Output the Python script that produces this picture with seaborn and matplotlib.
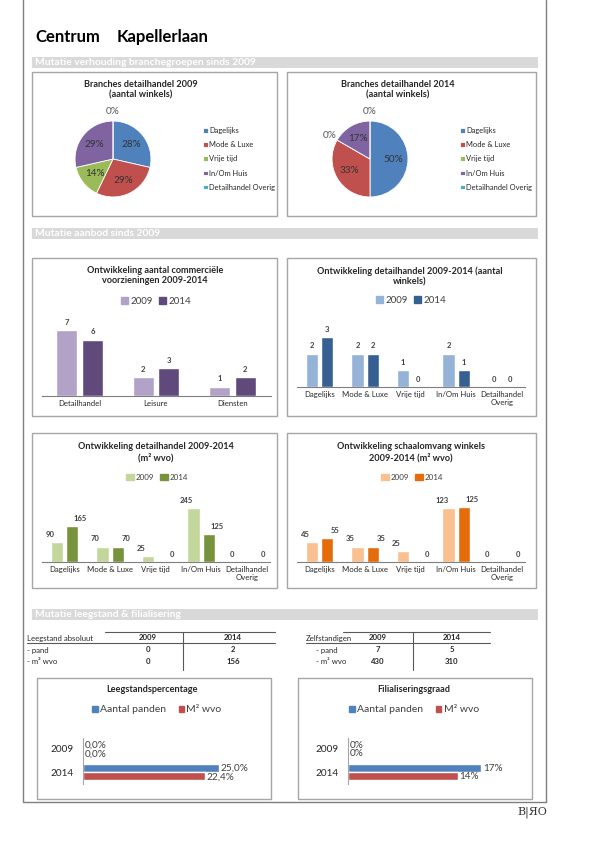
import matplotlib
matplotlib.use("Agg")
import math
import matplotlib.pyplot as plt
from matplotlib.patches import Rectangle, Patch
import seaborn as sns
import pandas as pd

sns.set_theme(style="white")
plt.rcParams["font.family"] = ["Lato", "DejaVu Sans"]

# data
branches = ["Dagelijks", "Mode & Luxe", "Vrije tijd", "In/Om Huis", "Detailhandel Overig"]
branches_as = ["Dagelijks", "Mode & Luxe", "Vrije tijd", "In/Om Huis", "Detailhandel\nOverig"]
winkels_2009 = [2, 2, 1, 2, 0]
winkels_2014 = [3, 2, 0, 1, 0]
pie_labels_2009 = ["28%", "29%", "14%", "29%", "0%"]
pie_labels_2014 = ["50%", "33%", "0%", "17%", "0%"]
voorz_cats = ["Detailhandel", "Leisure", "Diensten"]
voorz_2009 = [7, 2, 1]
voorz_2014 = [6, 3, 2]
wvo_2009 = [90, 70, 25, 245, 0]
wvo_2014 = [165, 70, 0, 125, 0]
schaal_2009 = [45, 35, 25, 123, 0]
schaal_2014 = [55, 35, 0, 125, 0]
jaren = ["2009", "2014"]
series = ["Aantal panden", "M² wvo"]
leeg_panden = [0.0, 25.0]
leeg_m2 = [0.0, 22.4]
filiaal_panden = [0, 17]
filiaal_m2 = [0, 14]
leeg_rows = ["- pand", "- m² wvo"]
leeg_09 = [0, 0]
leeg_14 = [2, 156]
zelf_09 = [7, 430]
zelf_14 = [5, 310]

pie_colors = ["#4F81BD", "#C0504D", "#9BBB59", "#8064A2", "#4BACC6"]
TXT = "#262626"
W, H = 595, 842

fig = plt.figure(figsize=(5.95, 8.42), dpi=100)
bg = fig.add_axes([0, 0, 1, 1])
bg.set_xlim(0, W)
bg.set_ylim(H, 0)
bg.axis("off")


def place(x0, y0, x1, y1):
    ax = fig.add_axes([x0 / W, 1 - y1 / H, (x1 - x0) / W, (y1 - y0) / H])
    ax.patch.set_alpha(0)
    return ax


def fxy(x, y):
    return (x / W, 1 - y / H)


def box(x0, y0, x1, y1):
    bg.add_patch(Rectangle((x0, y0), x1 - x0, y1 - y0, fill=False, ec="#a6a6a6", lw=1))


def header(y, text):
    bg.add_patch(Rectangle((32, y), 506, 11, color="#d9d9d9", lw=0))
    bg.text(35, y + 5.8, text, color="white", fontsize=7.4, fontweight="bold", va="center")


# page frame
bg.plot([23, 23, 546, 546], [0, 802, 802, 0], color="#7f7f7f", lw=1)
bg.text(35, 37, "Centrum", fontsize=12, fontweight="bold", va="center", color="black")
bg.text(117, 37, "Kapellerlaan", fontsize=12, fontweight="bold", va="center", color="black")
bg.text(517, 812, "B|ЯO", family="DejaVu Serif", fontsize=8, va="center", color="#333333")

header(57, "Mutatie verhouding branchegroepen sinds 2009")
header(228, "Mutatie aanbod sinds 2009")
header(609, "Mutatie leegstand & filialisering")

for b in [(32, 72, 277, 216), (287, 72, 536, 216), (32, 258, 277, 416), (287, 258, 536, 416),
          (32, 433, 277, 588), (287, 433, 536, 588), (37, 678, 271, 799), (298, 678, 532, 799)]:
    box(*b)


# pies
def pie(cx, cy, values, labels, title, tx):
    ax = place(cx - 52, cy - 52, cx + 52, cy + 52)
    wedges, _ = ax.pie(values, colors=pie_colors, startangle=90, counterclock=False,
                       wedgeprops=dict(ec="white", lw=0.6))
    ax.set_xlim(-1.37, 1.37)
    ax.set_ylim(-1.37, 1.37)
    for w, v, lab in zip(wedges, values, labels):
        t = math.radians((w.theta1 + w.theta2) / 2)
        r = 0.62 if v > 0 else 1.24
        ax.text(r * math.cos(t), r * math.sin(t), lab, ha="center", va="center",
                fontsize=7.2, color="#333333" if v > 0 else "#595959")
    ax.legend(wedges, branches, loc="center left", bbox_to_anchor=(1.33, 0.5), frameon=False,
              fontsize=5.4, handlelength=0.6, handleheight=0.6, handletextpad=0.2,
              labelspacing=0.95, borderpad=0, labelcolor=TXT)
    bg.text(tx, 89.5, title, ha="center", va="center", fontsize=6.6, fontweight="bold",
            color=TXT, linespacing=1.2)


pie(113, 159, winkels_2009, pie_labels_2009, "Branches detailhandel 2009\n(aantal winkels)", 141)
pie(370, 159, winkels_2014, pie_labels_2014, "Branches detailhandel 2014\n(aantal winkels)", 398)


# grouped bars
def bars(x0, x1, base, top, cats, a, b, colors, ymax, dxs, title, tx, ty, lx, ly, lsize, hl):
    n = len(cats)
    df = pd.DataFrame({"cat": cats * 2, "jaar": [jaren[0]] * n + [jaren[1]] * n, "val": a + b})
    ax = place(x0, top, x1, base)
    sns.barplot(data=df, x="cat", y="val", hue="jaar", palette=colors, width=0.67, gap=0.18,
                errorbar=None, legend=False, ax=ax, saturation=1)
    ax.set_xlim(-0.5, n - 0.5)
    ax.set_ylim(0, ymax)
    ax.set_yticks([])
    ax.set_xlabel("")
    ax.set_ylabel("")
    for s in ["left", "right", "top"]:
        ax.spines[s].set_visible(False)
    ax.spines["bottom"].set_color("#7f7f7f")
    ax.spines["bottom"].set_linewidth(0.8)
    ax.tick_params(axis="x", length=0, labelsize=5.6, pad=3, colors=TXT)
    for lab in ax.get_xticklabels():
        lab.set_linespacing(1.1)
    for cont, dx in zip(ax.containers, dxs):
        for p in cont.patches:
            v = p.get_height()
            ax.annotate(f"{v:.0f}", (p.get_x() + p.get_width() / 2, v), xytext=(dx, 3),
                        textcoords="offset points", ha="center", va="bottom", fontsize=5.5,
                        fontweight="bold", color="#404040")
    handles = [Patch(color=c) for c in colors]
    fig.legend(handles, jaren, loc="center", bbox_to_anchor=fxy(lx, ly), ncol=2, frameon=False,
               fontsize=lsize, handlelength=hl, handleheight=0.7, handletextpad=0.25,
               columnspacing=0.7, labelcolor="#404040")
    bg.text(tx, ty, title, ha="center", va="center", fontsize=6.6, fontweight="bold",
            color=TXT, linespacing=1.2)
    return ax


bars(41.5, 270.5, 396, 316, voorz_cats, voorz_2009, voorz_2014, ["#B3A2C7", "#604A7B"], 8.5,
     (0, 0), "Ontwikkeling aantal commerciële\nvoorzieningen 2009-2014", 155, 275.5, 156, 301, 7, 0.7)
bars(296.7, 524.8, 387, 327, branches_as, winkels_2009, winkels_2014, ["#95B3D7", "#376092"], 3.6,
     (0, 0), "Ontwikkeling detailhandel 2009-2014 (aantal\nwinkels)", 410, 276, 411, 300, 7, 0.7)
bars(41.7, 269.8, 562, 492, branches_as, wvo_2009, wvo_2014, ["#C3D69B", "#77933C"], 318,
     (-5, 6), "Ontwikkeling detailhandel 2009-2014\n(m² wvo)", 156, 452, 157, 477, 5.8, 1.0)
bars(296.7, 524.8, 562, 492, branches_as, schaal_2009, schaal_2014, ["#FAC090", "#E46C0A"], 159,
     (-5, 6), "Ontwikkeling schaalomvang winkels\n2009-2014 (m² wvo)", 411, 452, 412, 477, 5.8, 1.0)


# tables
def table(x_lab, title, x_line0, x_top0, x_mid, x_end, c1, c2, v1, v2, x_rows):
    bg.plot([x_top0, x_end], [632, 632], color="#595959", lw=0.8)
    bg.plot([x_line0, x_end], [643, 643], color="#595959", lw=0.8)
    bg.plot([x_mid, x_mid], [632, 670], color="#595959", lw=0.8)
    bg.text(x_lab, 638, title, fontsize=5.6, va="center", color=TXT)
    for x, j in zip([c1, c2], jaren):
        bg.text(x, 638, j, fontsize=5.6, va="center", ha="center", fontweight="bold", color=TXT)
    for y, r, a, b in zip([650, 662], leeg_rows, v1, v2):
        bg.text(x_rows, y, r, fontsize=5.6, va="center", color=TXT)
        bg.text(c1, y, str(a), fontsize=5.6, va="center", ha="center", fontweight="bold", color=TXT)
        bg.text(c2, y, str(b), fontsize=5.6, va="center", ha="center", fontweight="bold", color=TXT)


table(27, "Leegstand absoluut", 27, 105, 183, 275, 148, 233, leeg_09, leeg_14, 27)
table(306, "Zelfstandigen", 306, 343, 413, 490, 378, 452, zelf_09, zelf_14, 316)


# horizontal bars
def hbars(x0, x1, p, m, xmax, fmt, title, tx, lx):
    df = pd.DataFrame({"jaar": jaren * 2, "serie": [series[0]] * 2 + [series[1]] * 2,
                       "val": p + m})
    ax = place(x0, 737.5, x1, 783.5)
    sns.barplot(data=df, x="val", y="jaar", hue="serie", orient="h", palette=["#4F81BD", "#C0504D"],
                width=0.7, errorbar=None, legend=False, ax=ax, saturation=1)
    ax.set_xlim(0, xmax)
    ax.set_ylim(1.5, -0.5)
    ax.set_xticks([])
    ax.set_xlabel("")
    ax.set_ylabel("")
    for s in ["bottom", "right", "top"]:
        ax.spines[s].set_visible(False)
    ax.spines["left"].set_color("#a6a6a6")
    ax.spines["left"].set_linewidth(0.8)
    ax.tick_params(axis="y", length=0, labelsize=7.2, pad=7, colors=TXT)
    for cont in ax.containers:
        for pt in cont.patches:
            v = pt.get_width()
            ax.annotate(fmt(v), (v, pt.get_y() + pt.get_height() / 2), xytext=(1.5, -0.5),
                        textcoords="offset points", ha="left", va="center", fontsize=7.2,
                        color="#404040")
    handles = [Patch(color=c) for c in ["#4F81BD", "#C0504D"]]
    fig.legend(handles, series, loc="center", bbox_to_anchor=fxy(lx, 710), ncol=2, frameon=False,
               fontsize=7.5, handlelength=0.5, handleheight=0.5, handletextpad=0.25,
               columnspacing=1.2, labelcolor="#404040")
    bg.text(tx, 690, title, ha="center", va="center", fontsize=6.6, fontweight="bold", color=TXT)


hbars(83, 265, leeg_panden, leeg_m2, 33.5, lambda v: f"{v:.1f}%".replace(".", ","),
      "Leegstandspercentage", 152, 157)
hbars(348, 528, filiaal_panden, filiaal_m2, 23, lambda v: f"{v:.0f}%",
      "Filialiseringsgraad", 414, 414)

fig.savefig("out.png", dpi=100)
